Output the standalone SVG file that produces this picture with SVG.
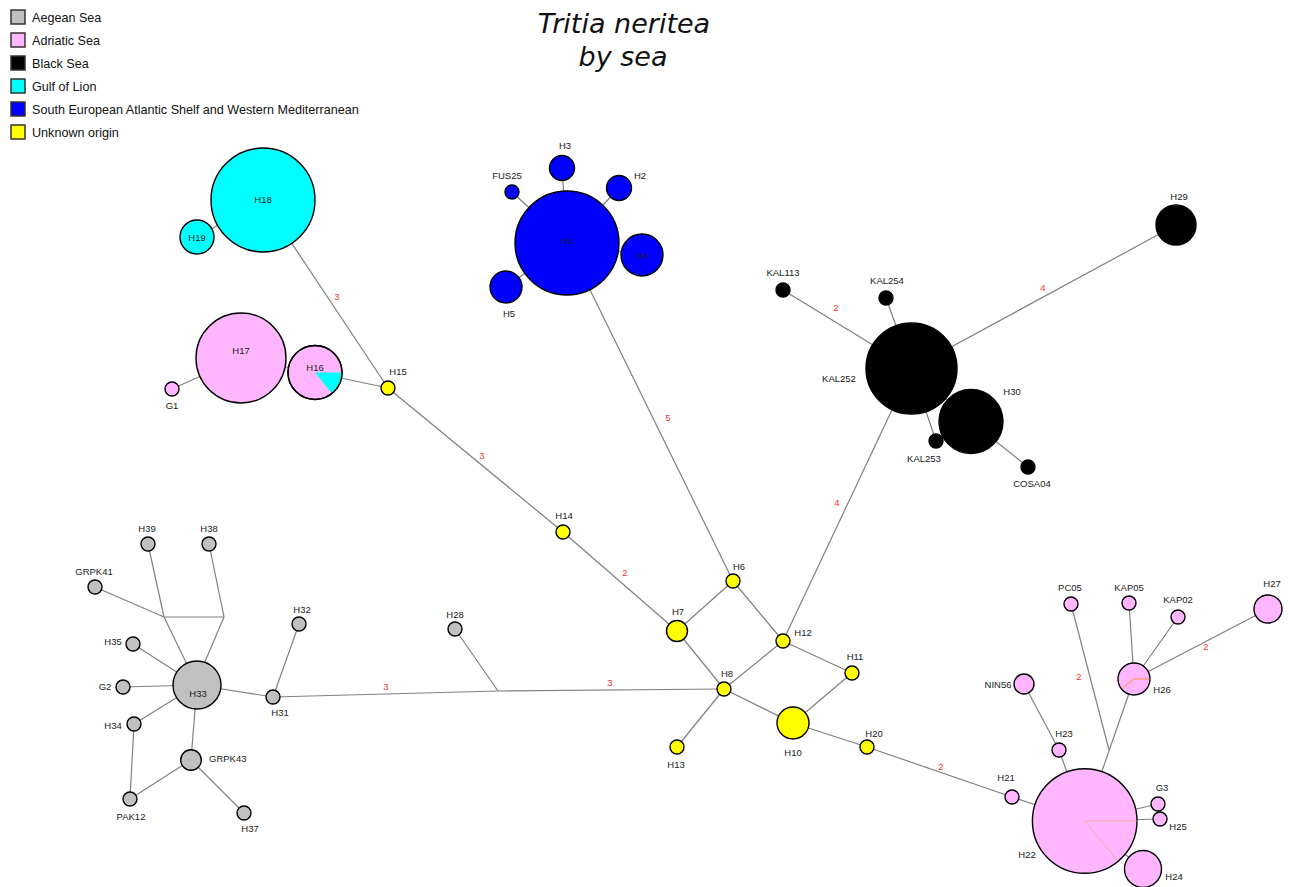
<svg xmlns="http://www.w3.org/2000/svg" width="1290" height="887" viewBox="0 0 1290 887">
<style>
.e{stroke:#808080;stroke-width:1.2;fill:none}
.n{stroke:#000;stroke-width:1.4}
.ae{fill:#c0c0c0}.ad{fill:#ffb6ff}.bk{fill:#000}.cy{fill:#00ffff}.bl{fill:#0000ff}.ye{fill:#ffff00}
.t{font-family:"Liberation Sans",Arial,sans-serif;font-size:9.5px;fill:#1a1a1a;text-anchor:middle}
.s{text-anchor:start}
.w{font-family:"Liberation Sans",Arial,sans-serif;font-size:9.5px;fill:#ff3030;text-anchor:middle}
.lg{font-family:"Liberation Sans",Arial,sans-serif;font-size:12.6px;fill:#111}
.ls{stroke:#333;stroke-width:1.5}
.ti{font-family:"DejaVu Sans",sans-serif;font-style:italic;font-size:27px;fill:#111;text-anchor:middle}
</style>
<g id="title">
<text class="ti" x="624" y="33">Tritia neritea</text>
<text class="ti" x="623" y="66">by sea</text>
</g>
<g id="legend">
<rect class="ls ae" x="11" y="10" width="14" height="14"/><text class="lg" x="32" y="21.5">Aegean Sea</text>
<rect class="ls ad" x="11" y="33" width="14" height="14"/><text class="lg" x="32" y="44.5">Adriatic Sea</text>
<rect class="ls bk" x="11" y="56" width="14" height="14"/><text class="lg" x="32" y="67.5">Black Sea</text>
<rect class="ls cy" x="11" y="79" width="14" height="14"/><text class="lg" x="32" y="90.5">Gulf of Lion</text>
<rect class="ls bl" x="11" y="102" width="14" height="14"/><text class="lg" x="32" y="113.5">South European Atlantic Shelf and Western Mediterranean</text>
<rect class="ls ye" x="11" y="125" width="14" height="14"/><text class="lg" x="32" y="136.5">Unknown origin</text>
</g>
<g id="connectors">
<line class="e" x1="197" y1="237" x2="263" y2="200"/>
<line class="e" x1="172" y1="389" x2="241" y2="358"/>
<line class="e" x1="241" y1="358" x2="315" y2="372.5"/>
<line class="e" x1="315" y1="372.5" x2="388" y2="388"/>
<line class="e" x1="263" y1="200" x2="388" y2="388"/>
<line class="e" x1="388" y1="388" x2="563" y2="532"/>
<line class="e" x1="563" y1="532" x2="677" y2="631"/>
<line class="e" x1="677" y1="631" x2="733" y2="581"/>
<line class="e" x1="733" y1="581" x2="567" y2="243"/>
<line class="e" x1="733" y1="581" x2="783" y2="641"/>
<line class="e" x1="677" y1="631" x2="724" y2="689"/>
<line class="e" x1="724" y1="689" x2="783" y2="641"/>
<line class="e" x1="783" y1="641" x2="911.5" y2="368.5"/>
<line class="e" x1="783" y1="641" x2="852" y2="673"/>
<line class="e" x1="852" y1="673" x2="793" y2="723"/>
<line class="e" x1="724" y1="689" x2="793" y2="723"/>
<line class="e" x1="724" y1="689" x2="677" y2="747"/>
<line class="e" x1="793" y1="723" x2="867" y2="747"/>
<line class="e" x1="867" y1="747" x2="1012" y2="797"/>
<line class="e" x1="724" y1="689" x2="498" y2="691"/>
<line class="e" x1="498" y1="691" x2="273" y2="697"/>
<line class="e" x1="498" y1="691" x2="455" y2="629"/>
<line class="e" x1="273" y1="697" x2="299" y2="624"/>
<line class="e" x1="273" y1="697" x2="197" y2="685"/>
<line class="e" x1="197" y1="685" x2="133" y2="644"/>
<line class="e" x1="197" y1="685" x2="123" y2="687"/>
<line class="e" x1="197" y1="685" x2="134" y2="724"/>
<line class="e" x1="134" y1="724" x2="130" y2="799"/>
<line class="e" x1="130" y1="799" x2="191" y2="760"/>
<line class="e" x1="191" y1="760" x2="197" y2="685"/>
<line class="e" x1="191" y1="760" x2="244" y2="813"/>
<line class="e" x1="197" y1="685" x2="164" y2="617"/>
<line class="e" x1="164" y1="617" x2="148" y2="544"/>
<line class="e" x1="164" y1="617" x2="95" y2="587"/>
<line class="e" x1="164" y1="617" x2="224" y2="617"/>
<line class="e" x1="224" y1="617" x2="209" y2="544"/>
<line class="e" x1="224" y1="617" x2="204" y2="664"/>
<line class="e" x1="567" y1="243" x2="562" y2="168"/>
<line class="e" x1="567" y1="243" x2="619" y2="188"/>
<line class="e" x1="567" y1="243" x2="512" y2="192"/>
<line class="e" x1="567" y1="243" x2="642" y2="255"/>
<line class="e" x1="567" y1="243" x2="506" y2="287"/>
<line class="e" x1="911.5" y1="368.5" x2="783" y2="290"/>
<line class="e" x1="911.5" y1="368.5" x2="886" y2="298"/>
<line class="e" x1="911.5" y1="368.5" x2="1176" y2="225"/>
<line class="e" x1="911.5" y1="368.5" x2="971" y2="421.5"/>
<line class="e" x1="911.5" y1="368.5" x2="936" y2="441"/>
<line class="e" x1="971" y1="421.5" x2="1028" y2="467"/>
<line class="e" x1="1084.7" y1="821" x2="1012" y2="797"/>
<line class="e" x1="1084.7" y1="821" x2="1059" y2="750"/>
<line class="e" x1="1059" y1="750" x2="1024" y2="684"/>
<line class="e" x1="1109" y1="750" x2="1071" y2="604"/>
<line class="e" x1="1084.7" y1="821" x2="1134" y2="679"/>
<line class="e" x1="1134" y1="679" x2="1129" y2="603"/>
<line class="e" x1="1134" y1="679" x2="1178" y2="617"/>
<line class="e" x1="1134" y1="679" x2="1268" y2="609"/>
<line class="e" x1="1084.7" y1="821" x2="1158" y2="804"/>
<line class="e" x1="1084.7" y1="821" x2="1160" y2="819"/>
<line class="e" x1="1084.7" y1="821" x2="1143" y2="869"/>
<text class="w" x="337" y="300">3</text>
<text class="w" x="482" y="459">3</text>
<text class="w" x="625" y="576">2</text>
<text class="w" x="668" y="421">5</text>
<text class="w" x="837" y="506">4</text>
<text class="w" x="941" y="770">2</text>
<text class="w" x="610" y="686">3</text>
<text class="w" x="386" y="690">3</text>
<text class="w" x="836" y="311">2</text>
<text class="w" x="1043" y="291">4</text>
<text class="w" x="1079" y="680">2</text>
<text class="w" x="1206" y="650">2</text>
</g>
<g id="H18"><circle class="n cy" cx="263" cy="200" r="52"/><text class="t" x="263" y="203">H18</text></g>
<g id="H19"><circle class="n cy" cx="197" cy="237" r="17"/><text class="t" x="197" y="241">H19</text></g>
<g id="H17"><circle class="n ad" cx="241" cy="358" r="45"/><text class="t" x="241" y="354">H17</text></g>
<g id="H16"><circle class="n ad" cx="315" cy="372.5" r="27"/><path class="cy" d="M315,372.5 L342,372.5 A27,27 0 0 1 331.8,393.6 Z"/><circle cx="315" cy="372.5" r="27" fill="none" stroke="#000" stroke-width="1.4"/><text class="t" x="315" y="371">H16</text></g>
<g id="G1"><circle class="n ad" cx="172" cy="389" r="7"/><text class="t" x="172" y="409">G1</text></g>
<g id="H15"><circle class="n ye" cx="388" cy="388" r="7"/><text class="t" x="398" y="375">H15</text></g>
<g id="H14"><circle class="n ye" cx="563" cy="532" r="7"/><text class="t" x="564" y="519">H14</text></g>
<g id="H1"><circle class="n bl" cx="567" cy="243" r="52"/><text class="t" x="567" y="244">H1</text></g>
<g id="H3"><circle class="n bl" cx="562" cy="168" r="12.5"/><text class="t" x="565" y="149">H3</text></g>
<g id="H2"><circle class="n bl" cx="619" cy="188" r="12.5"/><text class="t" x="640" y="179">H2</text></g>
<g id="FUS25"><circle class="n bl" cx="512" cy="192" r="7"/><text class="t" x="507" y="179">FUS25</text></g>
<g id="H4"><circle class="n bl" cx="642" cy="255" r="21"/><text class="t" x="642" y="259">H4</text></g>
<g id="H5"><circle class="n bl" cx="506" cy="287" r="16"/><text class="t" x="509" y="317">H5</text></g>
<g id="KAL252"><circle class="n bk" cx="911.5" cy="368.5" r="45.5"/><text class="t" x="839" y="382">KAL252</text></g>
<g id="KAL113"><circle class="n bk" cx="783" cy="290" r="7"/><text class="t" x="783" y="276">KAL113</text></g>
<g id="KAL254"><circle class="n bk" cx="886" cy="298" r="7"/><text class="t" x="887" y="284">KAL254</text></g>
<g id="H30"><circle class="n bk" cx="971" cy="421.5" r="32"/><text class="t" x="1012" y="395">H30</text></g>
<g id="KAL253"><circle class="n bk" cx="936" cy="441" r="7"/><text class="t" x="924" y="462">KAL253</text></g>
<g id="COSA04"><circle class="n bk" cx="1028" cy="467" r="7"/><text class="t" x="1032" y="487">COSA04</text></g>
<g id="H29"><circle class="n bk" cx="1176" cy="225" r="20"/><text class="t" x="1179" y="200">H29</text></g>
<g id="H6"><circle class="n ye" cx="733" cy="581" r="7"/><text class="t" x="739" y="570">H6</text></g>
<g id="H7"><circle class="n ye" cx="677" cy="631" r="10.5"/><text class="t" x="678" y="615">H7</text></g>
<g id="H12"><circle class="n ye" cx="783" cy="641" r="7"/><text class="t" x="803" y="636">H12</text></g>
<g id="H11"><circle class="n ye" cx="852" cy="673" r="7"/><text class="t" x="855" y="660">H11</text></g>
<g id="H8"><circle class="n ye" cx="724" cy="689" r="7"/><text class="t" x="727" y="677">H8</text></g>
<g id="H10"><circle class="n ye" cx="793" cy="723" r="16"/><text class="t" x="793" y="756">H10</text></g>
<g id="H20"><circle class="n ye" cx="867" cy="747" r="7"/><text class="t" x="874" y="737">H20</text></g>
<g id="H13"><circle class="n ye" cx="677" cy="747" r="7"/><text class="t" x="676" y="768">H13</text></g>
<g id="H28"><circle class="n ae" cx="455" cy="629" r="7"/><text class="t" x="455" y="618">H28</text></g>
<g id="H33"><circle class="n ae" cx="197" cy="685" r="24"/><text class="t" x="198" y="697">H33</text></g>
<g id="H39"><circle class="n ae" cx="148" cy="544" r="7"/><text class="t" x="147" y="532">H39</text></g>
<g id="H38"><circle class="n ae" cx="209" cy="544" r="7"/><text class="t" x="209" y="532">H38</text></g>
<g id="GRPK41"><circle class="n ae" cx="95" cy="587" r="7"/><text class="t" x="94" y="575">GRPK41</text></g>
<g id="H35"><circle class="n ae" cx="133" cy="644" r="7"/><text class="t" x="113" y="645">H35</text></g>
<g id="G2"><circle class="n ae" cx="123" cy="687" r="7"/><text class="t" x="105" y="690">G2</text></g>
<g id="H34"><circle class="n ae" cx="134" cy="724" r="7"/><text class="t" x="113" y="729">H34</text></g>
<g id="GRPK43"><circle class="n ae" cx="191" cy="760" r="10.3"/><text class="t s" x="209" y="762">GRPK43</text></g>
<g id="PAK12"><circle class="n ae" cx="130" cy="799" r="7"/><text class="t" x="131" y="820">PAK12</text></g>
<g id="H37"><circle class="n ae" cx="244" cy="813" r="7"/><text class="t" x="250" y="832">H37</text></g>
<g id="H31"><circle class="n ae" cx="273" cy="697" r="7"/><text class="t" x="280" y="716">H31</text></g>
<g id="H32"><circle class="n ae" cx="299" cy="624" r="7"/><text class="t" x="302" y="613">H32</text></g>
<g id="H22"><circle class="n ad" cx="1084.7" cy="821" r="52.3"/><path d="M1116.5,859.5 L1084.7,821 L1136.8,821" fill="none" stroke="#ffa090" stroke-width="0.8"/><text class="t" x="1027" y="858">H22</text></g>
<g id="H26"><circle class="n ad" cx="1134" cy="679" r="16"/><path d="M1123,687.5 L1134,679 L1149.5,679" fill="none" stroke="#ff9040" stroke-width="1"/><text class="t" x="1162" y="693">H26</text></g>
<g id="PC05"><circle class="n ad" cx="1071" cy="604" r="7"/><text class="t" x="1070" y="591">PC05</text></g>
<g id="KAP05"><circle class="n ad" cx="1129" cy="603" r="7"/><text class="t" x="1129" y="591">KAP05</text></g>
<g id="KAP02"><circle class="n ad" cx="1178" cy="617" r="7"/><text class="t" x="1178" y="603">KAP02</text></g>
<g id="H27"><circle class="n ad" cx="1268" cy="609" r="14"/><text class="t" x="1272" y="587">H27</text></g>
<g id="NIN56"><circle class="n ad" cx="1024" cy="684" r="10"/><text class="t" x="998" y="688">NIN56</text></g>
<g id="H23"><circle class="n ad" cx="1059" cy="750" r="7"/><text class="t" x="1064" y="737">H23</text></g>
<g id="H21"><circle class="n ad" cx="1012" cy="797" r="7"/><text class="t" x="1006" y="781">H21</text></g>
<g id="G3"><circle class="n ad" cx="1158" cy="804" r="7"/><text class="t" x="1162" y="791">G3</text></g>
<g id="H25"><circle class="n ad" cx="1160" cy="819" r="7"/><text class="t" x="1178" y="830">H25</text></g>
<g id="H24"><circle class="n ad" cx="1143" cy="869" r="18.5"/><text class="t" x="1174" y="880">H24</text></g>
</svg>
